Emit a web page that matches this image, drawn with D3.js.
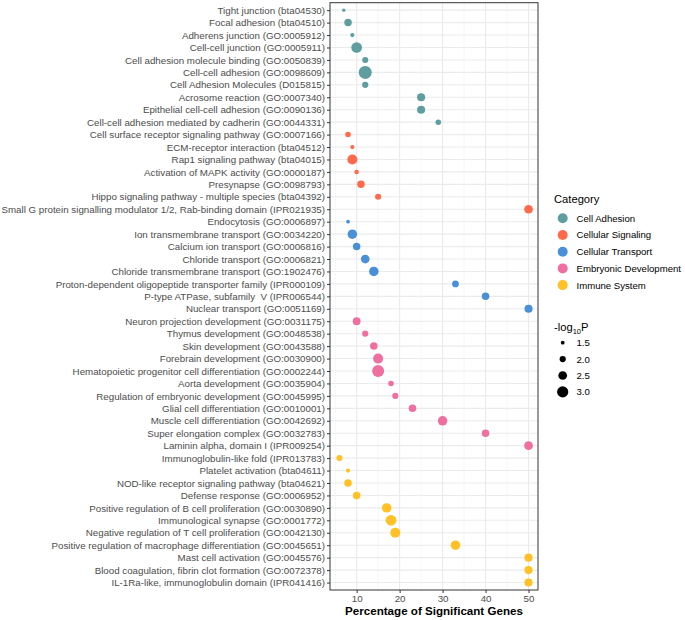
<!DOCTYPE html>
<html><head><meta charset="utf-8">
<script src="https://cdn.jsdelivr.net/npm/d3@7"></script>
<style>body{margin:0;background:#fff;} svg{font-family:"Liberation Sans",Arial,sans-serif;} text{white-space:pre;}</style>
</head><body><svg id="c" width="685" height="620"></svg>
<script>
const terms = [
"Tight junction (bta04530)","Focal adhesion (bta04510)","Adherens junction (GO:0005912)","Cell-cell junction (GO:0005911)",
"Cell adhesion molecule binding (GO:0050839)","Cell-cell adhesion (GO:0098609)","Cell Adhesion Molecules (D015815)",
"Acrosome reaction (GO:0007340)","Epithelial cell-cell adhesion (GO:0090136)","Cell-cell adhesion mediated by cadherin (GO:0044331)",
"Cell surface receptor signaling pathway (GO:0007166)","ECM-receptor interaction (bta04512)","Rap1 signaling pathway (bta04015)",
"Activation of MAPK activity (GO:0000187)","Presynapse (GO:0098793)","Hippo signaling pathway - multiple species (bta04392)",
"Small G protein signalling modulator 1/2, Rab-binding domain (IPR021935)","Endocytosis (GO:0006897)",
"Ion transmembrane transport (GO:0034220)","Calcium ion transport (GO:0006816)","Chloride transport (GO:0006821)",
"Chloride transmembrane transport (GO:1902476)","Proton-dependent oligopeptide transporter family (IPR000109)",
"P-type ATPase, subfamily  V (IPR006544)","Nuclear transport (GO:0051169)","Neuron projection development (GO:0031175)",
"Thymus development (GO:0048538)","Skin development (GO:0043588)","Forebrain development (GO:0030900)",
"Hematopoietic progenitor cell differentiation (GO:0002244)","Aorta development (GO:0035904)",
"Regulation of embryonic development (GO:0045995)","Glial cell differentiation (GO:0010001)",
"Muscle cell differentiation (GO:0042692)","Super elongation complex (GO:0032783)","Laminin alpha, domain I (IPR009254)",
"Immunoglobulin-like fold (IPR013783)","Platelet activation (bta04611)","NOD-like receptor signaling pathway (bta04621)",
"Defense response (GO:0006952)","Positive regulation of B cell proliferation (GO:0030890)","Immunological synapse (GO:0001772)",
"Negative regulation of T cell proliferation (GO:0042130)","Positive regulation of macrophage differentiation (GO:0045651)",
"Mast cell activation (GO:0045576)","Blood coagulation, fibrin clot formation (GO:0072378)","IL-1Ra-like, immunoglobulin domain (IPR041416)"
];
const termCategory = [0,0,0,0,0,0,0,0,0,0, 1,1,1,1,1,1,1, 2,2,2,2,2,2,2,2, 3,3,3,3,3,3,3,3,3,3,3, 4,4,4,4,4,4,4,4,4,4,4];
const percent = [7,8,9,10,12,12,12,25,25,29, 8,9,9,10,11,15,50, 8,9,10,12,14,33,40,50, 10,12,14,15,15,18,19,23,30,40,50, 6,8,8,10,17,18,19,33,50,50,50];
const logP = [1.42,2.25,1.58,2.9,1.97,3.36,2.0,2.37,2.37,1.85, 1.85,1.58,2.77,1.65,2.25,1.97,2.5, 1.48,2.65,2.25,2.5,2.65,2.1,2.25,2.37, 2.3,1.97,2.25,2.77,3.15,1.85,1.97,2.25,2.65,2.25,2.5, 1.97,1.58,2.25,2.25,2.65,2.9,2.77,2.65,2.37,2.37,2.37];
const categories = ["Cell Adhesion","Cellular Signaling","Cellular Transport","Embryonic Development","Immune System"];
const catColors = ["#5F9EA0","#FF6A4D","#4A90D9","#EE6FA0","#FFC125"];
const xTicks = [10,20,30,40,50];
const sizeBreaks = [1.5,2.0,2.5,3.0];

const svg = d3.select("#c");
const L = 330, R = 538, T = 2.7, B = 590;
const x = d3.scaleLinear().domain([3.8,52.2]).range([L,R]);
const y = d3.scalePoint().domain(terms).range([T,B]).padding(0.6);
const r = d3.scaleLinear().domain([1.3,3.4]).range([1.4,6.6]);
const col = d3.scaleOrdinal().domain(categories).range(catColors);
const FS = "9.75px";

// grid
const g = svg.append("g");
const minor = d3.range(5,52,10);
g.selectAll(".mn").data(minor).join("line").attr("x1",d=>x(d)).attr("x2",d=>x(d)).attr("y1",T).attr("y2",B)
 .attr("stroke","#F0F0F0").attr("stroke-width",0.6);
g.selectAll(".mj").data(xTicks).join("line").attr("x1",d=>x(d)).attr("x2",d=>x(d)).attr("y1",T).attr("y2",B)
 .attr("stroke","#EBEBEB").attr("stroke-width",1.1);
g.selectAll(".hy").data(terms).join("line").attr("x1",L).attr("x2",R).attr("y1",d=>y(d)).attr("y2",d=>y(d))
 .attr("stroke","#EBEBEB").attr("stroke-width",1.1);

// points
svg.append("g").selectAll("circle").data(terms.map((t,i)=>({t,i}))).join("circle")
 .attr("cx",d=>x(percent[d.i])).attr("cy",d=>y(d.t)).attr("r",d=>r(logP[d.i]))
 .attr("fill",d=>col(categories[termCategory[d.i]]));

// border
svg.append("rect").attr("x",L).attr("y",T).attr("width",R-L).attr("height",B-T)
 .attr("fill","none").attr("stroke","#333").attr("stroke-width",1);

// axes
const ya = svg.append("g").attr("transform",`translate(${L},0)`).call(d3.axisLeft(y).tickSize(3).tickPadding(2));
ya.select(".domain").remove();
ya.selectAll("line").attr("stroke","#333");
ya.selectAll("text").attr("fill","#4D4D4D").style("font-size",FS).style("font-family","'Liberation Sans',Arial,sans-serif");
const xa = svg.append("g").attr("transform",`translate(0,${B})`).call(d3.axisBottom(x).tickValues(xTicks).tickSize(3).tickPadding(2));
xa.select(".domain").remove();
xa.selectAll("line").attr("stroke","#333");
xa.selectAll("text").attr("fill","#4D4D4D").style("font-size",FS).style("font-family","'Liberation Sans',Arial,sans-serif");

svg.append("text").attr("x",(L+R)/2).attr("y",615).attr("text-anchor","middle")
 .style("font-size","11.6px").style("font-weight","bold").attr("fill","#000").text("Percentage of Significant Genes");

// legend: category
const lg = svg.append("g");
lg.append("text").attr("x",554).attr("y",203).style("font-size","11.2px").attr("fill","#000").text("Category");
categories.forEach((c,i)=>{
  const yy = 218.3 + i*16.7;
  lg.append("circle").attr("cx",562.7).attr("cy",yy).attr("r",5).attr("fill",catColors[i]);
  lg.append("text").attr("x",576.5).attr("y",yy+3.4).style("font-size","9.6px").attr("fill","#000").text(c);
});
// legend: size
const st = lg.append("text").attr("x",554).attr("y",330.5).style("font-size","11.2px").attr("fill","#000");
st.append("tspan").text("-log");
st.append("tspan").attr("dy",3).style("font-size","7.5px").text("10");
st.append("tspan").attr("dy",-3).text("P");
sizeBreaks.forEach((s,i)=>{
  const yy = 342.7 + i*16.4;
  lg.append("circle").attr("cx",562.7).attr("cy",yy).attr("r",r(s)).attr("fill","#000");
  lg.append("text").attr("x",576.5).attr("y",yy+3.4).style("font-size","9.6px").attr("fill","#000").text(s.toFixed(1));
});
</script></body></html>
